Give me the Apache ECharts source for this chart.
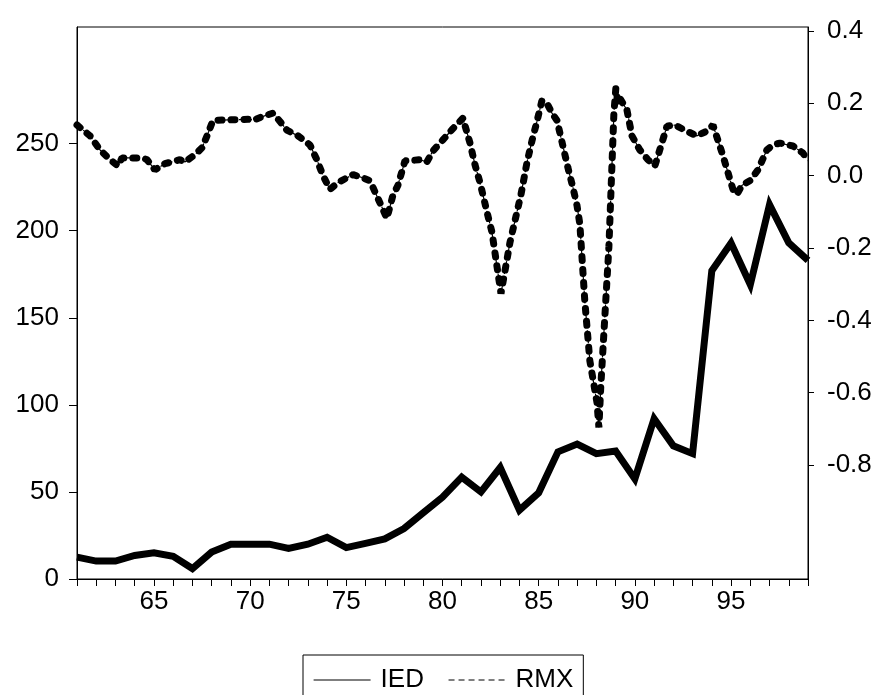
<!DOCTYPE html>
<html>
<head>
<meta charset="utf-8">
<script src="https://cdn.jsdelivr.net/npm/echarts@6/dist/echarts.min.js"></script>
<style>
  html, body { margin: 0; padding: 0; background: #fff; }
  #chart { width: 877px; height: 695px; }
</style>
</head>
<body>
<div id="chart"></div>
<script>
// IED, annual, 1961-1999 (left axis)
const iedYears = [61, 62, 63, 64, 65, 66, 67, 68, 69, 70, 71, 72, 73, 74, 75, 76, 77, 78, 79, 80,
                  81, 82, 83, 84, 85, 86, 87, 88, 89, 90, 91, 92, 93, 94, 95, 96, 97, 98, 99];
const iedValues = [12.6, 10.3, 10.3, 13.5, 15, 13, 6, 15.5, 20, 20, 20, 17.5, 20, 24, 18, 20.5, 23, 29, 38, 47,
                   58.5, 50, 64, 39.5, 49.5, 73, 77.5, 72, 73.5, 57.5, 92, 76.5, 72, 177, 193, 169, 215, 193, 183];

// RMX, read at its visible turning points (right axis)
const rmxYears = [61.0, 61.68, 62.2, 62.72, 63.13, 63.34, 64.43, 64.64, 65.05, 65.57, 66.35, 66.61, 67.13, 67.5,
                  67.76, 68.07, 70.0, 70.15, 70.67, 71.19, 71.55, 71.91, 72.49, 73.11, 73.47, 73.79, 74.15, 74.57,
                  75.35, 75.81, 76.23, 77.11, 77.42, 77.68, 78.05, 78.83, 79.19, 79.5, 80.02, 80.54, 81.06, 81.43,
                  81.69, 81.95, 82.31, 82.57, 83.04, 83.51, 84.08, 84.39, 84.65, 84.91, 85.17, 85.43, 85.69, 85.95,
                  86.26, 86.52, 86.78, 86.99, 87.14, 87.4, 87.66, 88.03, 88.13, 88.23, 88.65, 88.91, 89.01, 89.12,
                  89.22, 89.59, 89.85, 90.26, 90.68, 91.04, 91.67, 92.08, 92.7, 93.22, 93.74, 94.06, 94.58, 95.1,
                  95.3, 95.56, 95.98, 96.4, 96.86, 97.18, 97.54, 98.21, 98.73, 99.0];
const rmxValues = [0.14, 0.11, 0.071, 0.044, 0.027, 0.049, 0.049, 0.044, 0.016, 0.033, 0.044, 0.038, 0.058, 0.077,
                   0.11, 0.153, 0.156, 0.153, 0.164, 0.173, 0.15, 0.126, 0.11, 0.085, 0.044, 0.0, -0.038, -0.019,
                   0.003, -0.005, -0.014, -0.118, -0.055, -0.027, 0.041, 0.044, 0.038, 0.068, 0.099, 0.13, 0.159, 0.09,
                   0.03, -0.019, -0.1, -0.156, -0.326, -0.184, -0.052, 0.036, 0.096, 0.15, 0.208, 0.2, 0.173, 0.153,
                   0.082, 0.022, -0.033, -0.082, -0.134, -0.348, -0.512, -0.627, -0.696, -0.581, -0.197, 0.173, 0.241, 0.2,
                   0.214, 0.181, 0.11, 0.071, 0.044, 0.027, 0.137, 0.14, 0.123, 0.11, 0.123, 0.14, 0.055, -0.038,
                   -0.052, -0.027, -0.014, 0.016, 0.071, 0.085, 0.09, 0.082, 0.063, 0.041];

const leftTicks = [0, 50, 100, 150, 200, 250];
const rightTicks = [-0.8, -0.6, -0.4, -0.2, 0.0, 0.2, 0.4];

const font = "Liberation Sans, Arial, sans-serif";
const fontSize = 26;
const chart = echarts.init(document.getElementById("chart"));

const ied = iedYears.map((y, i) => [y, iedValues[i]]);
const rmx = rmxYears.map((y, i) => [y, rmxValues[i]]);

// legend shows only the line, no symbol
const noSymbol = { color: "rgba(0,0,0,0)", borderWidth: 0, opacity: 0 };

chart.setOption({
    animation: false,
    backgroundColor: "#fff",
    textStyle: { fontFamily: font, color: "#000" },
    grid: {
        left: 77, right: 69, top: 27, bottom: 116,
        show: true, borderColor: "#000", borderWidth: 1, backgroundColor: "transparent",
    },
    legend: {
        left: 303, top: 655,
        padding: [12, 10, 40, 10],
        borderColor: "#000", borderWidth: 1,
        itemWidth: 57, itemHeight: 14, itemGap: 24,
        textStyle: { fontFamily: font, fontSize: fontSize, color: "#000", padding: [0, 0, 0, 5] },
        data: [
            { name: "IED", itemStyle: noSymbol, lineStyle: { width: 1.2, type: "solid", color: "#000" } },
            { name: "RMX", itemStyle: noSymbol, lineStyle: { width: 1.2, type: [6, 4], color: "#000" } },
        ],
    },
    xAxis: {
        type: "value", min: 61, max: 99, interval: 1,
        axisLine: { lineStyle: { color: "#000", width: 1 } },
        axisTick: { inside: false, length: 7, lineStyle: { color: "#000" } },
        axisLabel: {
            margin: 10, fontSize: fontSize, color: "#000", fontFamily: font,
            formatter: (v) => (v % 5 === 0 ? String(v) : ""),
        },
        splitLine: { show: false },
    },
    yAxis: [
        {
            type: "value", min: 0, max: 317, position: "left",
            axisLine: { show: true, lineStyle: { color: "#000", width: 1 } },
            axisTick: { show: true, length: 8, customValues: leftTicks, lineStyle: { color: "#000" } },
            axisLabel: { margin: 18, fontSize: fontSize, color: "#000", fontFamily: font, customValues: leftTicks },
            splitLine: { show: false },
        },
        {
            type: "value", min: -1.115, max: 0.411, position: "right",
            axisLine: { show: true, lineStyle: { color: "#000", width: 1 } },
            axisTick: { show: true, length: 6, customValues: rightTicks, lineStyle: { color: "#000" } },
            axisLabel: {
                margin: 19, fontSize: fontSize, color: "#000", fontFamily: font, customValues: rightTicks,
                formatter: (v) => v.toFixed(1),
            },
            splitLine: { show: false },
        },
    ],
    series: [
        {
            name: "IED", type: "line", yAxisIndex: 0, data: ied,
            showSymbol: false, symbol: "none", itemStyle: { color: "#000" },
            lineStyle: { color: "#000", width: 7, join: "miter" },
        },
        {
            name: "RMX", type: "line", yAxisIndex: 1, data: rmx,
            showSymbol: false, symbol: "none", itemStyle: { color: "#000" },
            lineStyle: { color: "#000", width: 1.2, type: [5, 3] },
        },
        {
            name: "RMX", type: "line", yAxisIndex: 1, data: rmx,
            showSymbol: false, symbol: "none", itemStyle: { color: "#000" },
            lineStyle: { color: "#000", width: 7, type: [4, 9], cap: "round" },
        },
    ],
});
</script>
</body>
</html>
